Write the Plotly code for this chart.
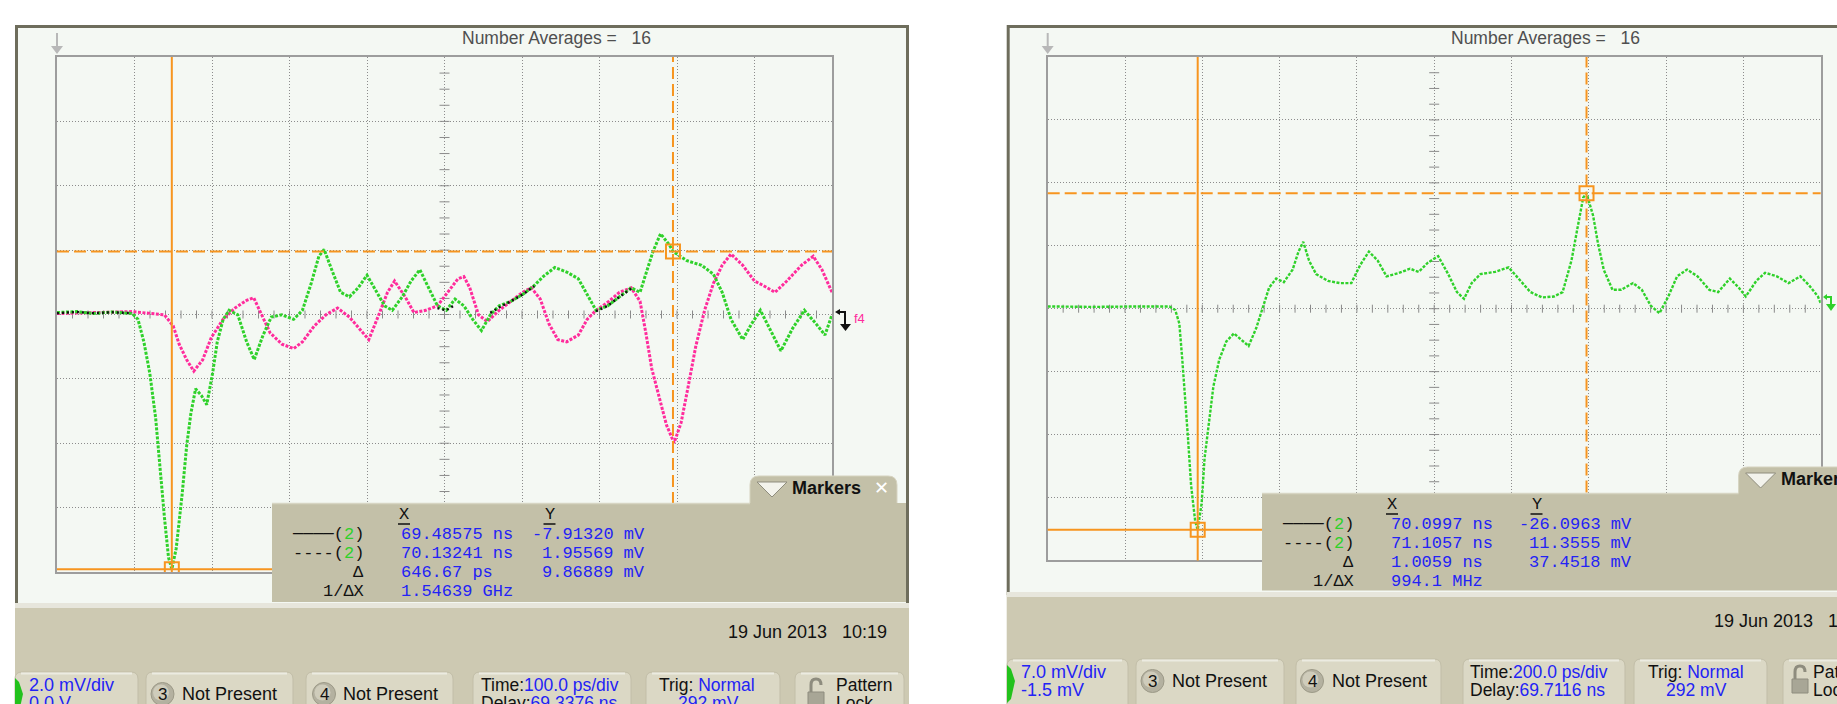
import plotly.graph_objects as go

# ---------------- left screen: 100 ps/div, 2.0 mV/div, offset 0.0 V ----------------
left_delay = 69.3376          # ns at left edge of screen
left_time_per_div = 0.1       # ns
left_offset = 0.0             # mV at screen centre
left_volt_per_div = 2.0       # mV

left_green_t = [69.3376, 69.3626, 69.3853, 69.4081, 69.4346, 69.4421, 69.4497, 69.4573, 69.4649, 69.4702,
                69.4762, 69.4815, 69.4858, 69.4914, 69.4990, 69.5050, 69.5103, 69.5164, 69.5240, 69.5308,
                69.5384, 69.5444, 69.5520, 69.5596, 69.5709, 69.5823, 69.5921, 69.6035, 69.6141, 69.6278,
                69.6429, 69.6543, 69.6656, 69.6755, 69.6823, 69.6921, 69.7035, 69.7149, 69.7262, 69.7376,
                69.7490, 69.7603, 69.7702, 69.7831, 69.7944, 69.8058, 69.8171, 69.8285, 69.8399, 69.8512,
                69.8626, 69.8740, 69.8853, 69.8967, 69.9081, 69.9232, 69.9384, 69.9535, 69.9649, 69.9800,
                69.9952, 70.0103, 70.0217, 70.0331, 70.0482, 70.0634, 70.0785, 70.0899, 70.0974, 70.1065,
                70.1164, 70.1278, 70.1324, 70.1505, 70.1694, 70.1846, 70.1959, 70.2073, 70.2224, 70.2338,
                70.2452, 70.2565, 70.2717, 70.2868, 70.3020, 70.3171, 70.3285, 70.3376]
left_green_v = [0.06, 0.09, 0.03, 0.08, 0.03, -0.15, -0.85, -1.82, -3.22, -4.76,
                -6.30, -7.55, -7.91, -7.27, -5.60, -4.06, -3.08, -2.31, -2.52, -2.80,
                -1.82, -0.85, -0.15, 0.13, -0.01, -0.85, -1.40, -0.64, -0.08, -0.01,
                -0.15, 0.13, 0.97, 1.81, 2.02, 1.39, 0.69, 0.55, 0.83, 1.22,
                0.76, 0.27, 0.13, 0.55, 1.04, 1.39, 0.83, 0.27, 0.13, 0.48,
                0.27, -0.15, -0.50, -0.01, 0.27, 0.41, 0.62, 0.90, 1.18, 1.46,
                1.32, 1.11, 0.62, 0.13, 0.27, 0.55, 0.83, 0.69, 1.25, 1.95,
                2.51, 2.16, 1.96, 1.67, 1.53, 1.25, 0.69, -0.15, -0.78, -0.29,
                0.13, -0.43, -1.13, -0.43, 0.13, -0.29, -0.64, -0.01]

left_pink_t = [69.3376, 69.3853, 69.4346, 69.4762, 69.4876, 69.4952, 69.5050, 69.5141, 69.5255, 69.5368,
               69.5520, 69.5671, 69.5823, 69.5914, 69.6012, 69.6126, 69.6278, 69.6429, 69.6543, 69.6694,
               69.6846, 69.6997, 69.7149, 69.7278, 69.7399, 69.7528, 69.7641, 69.7732, 69.7868, 69.7982,
               69.8134, 69.8285, 69.8437, 69.8550, 69.8626, 69.8702, 69.8815, 69.8929, 69.9081, 69.9232,
               69.9384, 69.9497, 69.9611, 69.9724, 69.9838, 69.9952, 70.0103, 70.0217, 70.0331, 70.0482,
               70.0634, 70.0785, 70.0899, 70.0974, 70.1050, 70.1141, 70.1240, 70.1338, 70.1429, 70.1520,
               70.1618, 70.1732, 70.1846, 70.1959, 70.2073, 70.2224, 70.2376, 70.2490, 70.2641, 70.2793,
               70.2982, 70.3134, 70.3247, 70.3376]
left_pink_v = [0.03, 0.06, 0.09, -0.01, -0.36, -0.92, -1.41, -1.76, -1.41, -0.71,
               -0.15, 0.20, 0.44, 0.52, -0.01, -0.57, -0.92, -1.06, -0.85, -0.36,
               -0.01, 0.20, -0.08, -0.43, -0.78, -0.01, 0.69, 1.04, 0.55, 0.06,
               0.13, 0.27, 0.76, 1.11, 1.18, 0.83, -0.01, -0.22, 0.13, 0.41,
               0.69, 0.83, 0.48, -0.29, -0.78, -0.85, -0.64, -0.15, 0.13, 0.38,
               0.69, 0.83, 0.41, -0.57, -1.68, -2.52, -3.43, -3.99, -3.36, -2.24,
               -0.99, 0.13, 0.97, 1.53, 1.88, 1.53, 1.04, 0.90, 0.69, 1.04,
               1.53, 1.81, 1.39, 0.69]

# segments where the two waveforms coincide and the overlap colour shows
left_black_t = [69.3376, 69.3626, 69.3853, 69.4081, 69.4346, None,
                69.8285, 69.8399, 69.8512, None,
                69.8967, 69.9081, 69.9232, 69.9384, 69.9535, None,
                70.0331, 70.0482, 70.0634, 70.0785]
left_black_v = [0.04, 0.08, 0.04, 0.07, 0.04, None,
                0.20, 0.13, 0.30, None,
                0.05, 0.22, 0.41, 0.62, 0.88, None,
                0.10, 0.27, 0.55, 0.80]

left_marker_x = [69.48575, 70.13241]   # ns (solid, dashed)
left_marker_y = [-7.91320, 1.95569]    # mV (solid, dashed)
left_delta_x = "646.67 ps"
left_delta_y = "9.86889 mV"
left_inv_dx = "1.54639 GHz"

# ---------------- right screen: 200 ps/div, 7.0 mV/div, offset -1.5 mV ----------------
right_delay = 69.7116
right_time_per_div = 0.2
right_offset = -1.5
right_volt_per_div = 7.0

right_green_t = [69.7116, 69.8290, 69.9505, 70.0264, 70.0416, 70.0522, 70.0598, 70.0674, 70.0750, 70.0826,
                 70.0932, 70.0997, 70.1099, 70.1175, 70.1281, 70.1403, 70.1555, 70.1737, 70.1935, 70.2162,
                 70.2314, 70.2512, 70.2694, 70.2846, 70.3028, 70.3225, 70.3453, 70.3605, 70.3727, 70.3878,
                 70.4061, 70.4364, 70.4668, 70.4972, 70.5200, 70.5427, 70.5655, 70.5883, 70.6187, 70.6490,
                 70.6718, 70.6946, 70.7219, 70.7478, 70.7705, 70.7888, 70.8085, 70.8313, 70.8692, 70.9042,
                 70.9300, 70.9604, 70.9907, 71.0211, 71.0439, 71.0667, 71.0818, 71.0970, 71.1057, 71.1228,
                 71.1350, 71.1502, 71.1730, 71.1957, 71.2261, 71.2489, 71.2717, 71.2945, 71.3172, 71.3400,
                 71.3658, 71.3931, 71.4235, 71.4463, 71.4767, 71.4994, 71.5177, 71.5450, 71.5678, 71.5982,
                 71.6285, 71.6589, 71.6817, 71.7045, 71.7116]
right_green_v = [-1.25, -1.30, -1.25, -1.25, -1.65, -3.15, -7.15, -11.15, -16.14, -21.14,
                 -25.14, -26.10, -23.14, -18.14, -14.14, -10.15, -7.15, -5.15, -4.25, -5.05,
                 -5.65, -3.65, -1.15, 0.85, 1.85, 1.45, 2.85, 4.85, 5.95, 3.85,
                 2.35, 1.60, 1.35, 1.35, 3.35, 4.85, 3.85, 2.10, 2.45, 2.95,
                 2.60, 3.60, 4.35, 2.35, 0.35, -0.40, 1.35, 2.35, 2.60, 3.10,
                 1.85, 0.35, -0.25, -0.15, 0.35, 3.85, 7.35, 10.84, 11.36, 8.84,
                 5.85, 2.85, 0.60, 0.60, 1.35, 0.60, -1.15, -2.00, -0.15, 2.10,
                 2.85, 2.10, 0.60, 0.35, 1.85, 0.85, -0.15, 1.60, 2.50, 2.10,
                 1.35, 2.10, 1.10, -0.15, -0.90]

right_marker_x = [70.0997, 71.1057]
right_marker_y = [-26.0963, 11.3555]
right_delta_x = "1.0059 ns"
right_delta_y = "37.4518 mV"
right_inv_dx = "994.1 MHz"

# ---------------- styling ----------------
W, H = 1837, 704
GREEN = "#2fd12a"
PINK = "#ff2c9c"
ORANGE = "#f7951f"
GRID = "#8c8c8c"
FRAME = "#6e6d5c"
SCREEN = "#f4f8f3"
TAN = "#cdc9b2"
PANEL = "#c3c0a8"
BUTTON = "#dbd8c5"
BLUE = "#2323f5"
SANS = "Liberation Sans, Arial, sans-serif"
MONO = "Liberation Mono, DejaVu Sans Mono, monospace"
NB = "\u00a0"


def px(x):
    return x / W


def py(y):
    return 1 - y / H


def pt(x, y):
    return f"{px(x):.6f},{py(y):.6f}"


def rect(x0, y0, x1, y1, fill, line_color=None, lw=0, layer="below"):
    return dict(type="rect", xref="paper", yref="paper", x0=px(x0), x1=px(x1), y0=py(y1), y1=py(y0),
                fillcolor=fill, line=dict(color=line_color or fill, width=lw), layer=layer)


def poly(points, fill=None, line_color=None, lw=0, close=True, layer="above"):
    d = "M" + " L".join(pt(x, y) for x, y in points) + (" Z" if close else "")
    return dict(type="path", xref="paper", yref="paper", path=d,
                fillcolor=fill or "rgba(0,0,0,0)",
                line=dict(color=line_color or "rgba(0,0,0,0)", width=lw), layer=layer)


def rrect(x0, y0, x1, y1, r, fill, line_color=None, lw=0, layer="above", top_only=False):
    if top_only:
        d = (f"M{pt(x0, y1)} L{pt(x0, y0 + r)} Q{pt(x0, y0)} {pt(x0 + r, y0)} "
             f"L{pt(x1 - r, y0)} Q{pt(x1, y0)} {pt(x1, y0 + r)} L{pt(x1, y1)} Z")
    else:
        d = (f"M{pt(x0 + r, y0)} L{pt(x1 - r, y0)} Q{pt(x1, y0)} {pt(x1, y0 + r)} "
             f"L{pt(x1, y1 - r)} Q{pt(x1, y1)} {pt(x1 - r, y1)} L{pt(x0 + r, y1)} "
             f"Q{pt(x0, y1)} {pt(x0, y1 - r)} L{pt(x0, y0 + r)} Q{pt(x0, y0)} {pt(x0 + r, y0)} Z")
    return dict(type="path", xref="paper", yref="paper", path=d, fillcolor=fill,
                line=dict(color=line_color or fill, width=lw), layer=layer)


def circle(cx, cy, r, fill, line_color=None, lw=0, layer="above"):
    return dict(type="circle", xref="paper", yref="paper", x0=px(cx - r), x1=px(cx + r),
                y0=py(cy + r), y1=py(cy - r), fillcolor=fill,
                line=dict(color=line_color or fill, width=lw), layer=layer)


def hline(x0, x1, y, color, lw=1, layer="above"):
    return dict(type="line", xref="paper", yref="paper", x0=px(x0), x1=px(x1), y0=py(y), y1=py(y),
                line=dict(color=color, width=lw), layer=layer)


def text(x, y, s, size=18, color="#111111", family=SANS, xanchor="left", yanchor="middle"):
    return dict(xref="paper", yref="paper", x=px(x), y=py(y), text=s, showarrow=False,
                xanchor=xanchor, yanchor=yanchor, font=dict(size=size, color=color, family=family))


def blue(s):
    return f"<span style='color:{BLUE}'>{s}</span>"


shapes = []
annotations = []

# ---------------- screen bezels and panels ----------------
screens = [
    dict(fx0=15, fx1=909, sx0=18, sx1=906, sbot=603, gx=57,
         tab=(750, 476, 897, 504), panel=(272, 503, 906, 602)),
    dict(fx0=1006.7, fx1=1845, sx0=1009.7, sx1=1845, sbot=592, gx=1047.7,
         tab=(1738.6, 467, 1850, 494), panel=(1262, 493, 1845, 590.5)),
]
for s in screens:
    shapes.append(rect(s["fx0"], 25, s["fx1"], s["sbot"] + 3, FRAME))
    shapes.append(rect(s["sx0"], 28, s["sx1"], s["sbot"], SCREEN))
    shapes.append(rect(s["fx0"], s["sbot"], s["fx1"], 712, TAN))
    shapes.append(rect(s["fx0"], s["sbot"], s["fx1"], s["sbot"] + 5, "#e7e6dc"))
    # small grey arrow above the grid's top-left corner
    shapes.append(poly([(s["gx"], 33), (s["gx"], 49)], line_color="#b8b8b8", lw=2, close=False, layer="below"))
    shapes.append(poly([(s["gx"] - 6, 46), (s["gx"] + 6, 46), (s["gx"], 54)], fill="#b8b8b8", layer="below"))

# ---------------- axes ----------------
left_xr = [left_delay, left_delay + 10 * left_time_per_div]
left_yr = [left_offset - 4 * left_volt_per_div, left_offset + 4 * left_volt_per_div]
right_xr = [right_delay, right_delay + 10 * right_time_per_div]
right_yr = [right_offset - 4 * right_volt_per_div, right_offset + 4 * right_volt_per_div]

ax_common = dict(showgrid=True, gridcolor=GRID, gridwidth=1, griddash="1px,2px", showticklabels=False,
                 ticks="", zeroline=False, showline=True, mirror=True, linecolor="#9d9d9d", linewidth=2,
                 fixedrange=True)

fig = go.Figure()

fig.add_trace(go.Scatter(x=left_pink_t, y=left_pink_v, mode="lines", xaxis="x", yaxis="y",
                         line=dict(color=PINK, width=3, dash="3px,1.5px"), hoverinfo="skip"))
fig.add_trace(go.Scatter(x=left_green_t, y=left_green_v, mode="lines", xaxis="x", yaxis="y",
                         line=dict(color=GREEN, width=3, dash="3px,1.5px"), hoverinfo="skip"))
fig.add_trace(go.Scatter(x=left_black_t, y=left_black_v, mode="lines", xaxis="x", yaxis="y",
                         connectgaps=False, line=dict(color="#111111", width=2.4, dash="2px,3px"),
                         hoverinfo="skip"))
fig.add_trace(go.Scatter(x=right_green_t, y=right_green_v, mode="lines", xaxis="x2", yaxis="y2",
                         line=dict(color=GREEN, width=2.4, dash="3px,1.5px"), hoverinfo="skip"))

# ---------------- minor ticks on the centre cross ----------------
for xa, ya, xr, yr, tdiv, vdiv in [("x", "y", left_xr, left_yr, left_time_per_div, left_volt_per_div),
                                     ("x2", "y2", right_xr, right_yr, right_time_per_div, right_volt_per_div)]:
    tc = (xr[0] + xr[1]) / 2
    vc = (yr[0] + yr[1]) / 2
    for k in range(1, 32):
        v = yr[0] + k * vdiv / 4
        shapes.append(dict(type="line", xref=xa, yref=ya, xsizemode="pixel", xanchor=tc, x0=-5, x1=5,
                           y0=v, y1=v, line=dict(color="#8a8a8a", width=1), layer="below"))
    for k in range(1, 50):
        t = xr[0] + k * tdiv / 5
        shapes.append(dict(type="line", xref=xa, yref=ya, ysizemode="pixel", yanchor=vc, y0=-4, y1=4,
                           x0=t, x1=t, line=dict(color="#8a8a8a", width=1), layer="below"))

# ---------------- orange measurement markers ----------------
for xa, ya, mx, my in [("x", "y", left_marker_x, left_marker_y), ("x2", "y2", right_marker_x, right_marker_y)]:
    for i, dash in enumerate(["solid", "12px,5px"]):
        shapes.append(dict(type="line", xref=xa, yref="paper",
                           x0=mx[i], x1=mx[i],
                           y0=py(572 if xa == "x" else 560.4), y1=py(57),
                           line=dict(color=ORANGE, width=2, dash=dash), layer="above"))
        shapes.append(dict(type="line", xref="paper", yref=ya,
                           x0=px(57 if xa == "x" else 1047.7), x1=px(832 if xa == "x" else 1820.7),
                           y0=my[i], y1=my[i],
                           line=dict(color=ORANGE, width=2, dash=dash), layer="above"))
        shapes.append(dict(type="rect", xref=xa, yref=ya, xsizemode="pixel", ysizemode="pixel",
                           xanchor=mx[i], yanchor=my[i], x0=-7, x1=7, y0=-7, y1=7,
                           line=dict(color=ORANGE, width=2), fillcolor="rgba(0,0,0,0)", layer="above"))

# ---------------- channel reference arrows at the right edge ----------------
shapes.append(poly([(837, 312), (845, 312), (845, 326)], line_color="#111111", lw=2, close=False))
shapes.append(poly([(835, 312), (840, 309), (840, 315)], fill="#111111"))
shapes.append(poly([(840, 324), (851, 324), (845.5, 331)], fill="#111111"))
annotations.append(text(852, 318, "f4", size=13, color=PINK))
shapes.append(poly([(1825, 297), (1831, 297), (1831, 305)], line_color=GREEN, lw=2, close=False))
shapes.append(poly([(1823, 297), (1827, 294), (1827, 300)], fill=GREEN))
shapes.append(poly([(1826, 304), (1836, 304), (1831, 311)], fill=GREEN))

# ---------------- marker readout panels ----------------
readouts = [
    dict(scr=screens[0], top=503, lab_r=366, xcol=399, ycol_r=647, xhdr=404, yhdr=549.5,
         xs=[f"{v:.5f} ns" for v in left_marker_x] + [left_delta_x, left_inv_dx],
         ys=[f"{v:.5f} mV" for v in left_marker_y] + [left_delta_y]),
    dict(scr=screens[1], top=493, lab_r=1356, xcol=1388.5, ycol_r=1634, xhdr=1392, yhdr=1536.5,
         xs=[f"{v:.4f} ns" for v in right_marker_x] + [right_delta_x, right_inv_dx],
         ys=[f"{v:.4f} mV" for v in right_marker_y] + [right_delta_y]),
]
for r in readouts:
    s = r["scr"]
    tx0, ty0, tx1, ty1 = s["tab"]
    shapes.append(rrect(tx0, ty0, tx1, ty1, 9, PANEL, "#d6d3c0", 1, top_only=True))
    px0, py0, px1, py1 = s["panel"]
    shapes.append(rect(px0, py0, px1, py1, PANEL, layer="above"))
    shapes.append(hline(px0, tx0, py0 + 0.5, "#d7d5c3", 1.5))
    shapes.append(poly([(tx0 + 7, ty0 + 6), (tx0 + 37, ty0 + 6), (tx0 + 22, ty0 + 21)],
                       fill="#f3f3ec", line_color="#8f8d7d", lw=1))
    annotations.append(text(tx0 + 40, ty0 + 12, "<b>Markers</b>", size=18, color="#111111"))
    annotations.append(text(tx0 + 122, ty0 + 12, "\u2715", size=18, color="#ffffff"))
    top = r["top"]
    rows = [top + 31, top + 50, top + 69, top + 88]
    annotations.append(text(r["xhdr"], top + 11, "X", size=17, family=MONO, xanchor="center"))
    annotations.append(text(r["yhdr"], top + 11, "Y", size=17, family=MONO, xanchor="center"))
    shapes.append(hline(r["xhdr"] - 6, r["xhdr"] + 6, top + 21, "#111111", 1.5))
    shapes.append(hline(r["yhdr"] - 6, r["yhdr"] + 6, top + 21, "#111111", 1.5))
    g2 = f"(<span style='color:{GREEN}'>2</span>)"
    labels = ["\u2500\u2500\u2500\u2500" + g2, "----" + g2, "\u0394", "1/\u0394X"]
    for i, lab in enumerate(labels):
        annotations.append(text(r["lab_r"], rows[i], lab, size=17, family=MONO, xanchor="right"))
        annotations.append(text(r["xcol"], rows[i], r["xs"][i], size=17, family=MONO, color=BLUE))
    for i, val in enumerate(r["ys"]):
        annotations.append(text(r["ycol_r"], rows[i], val, size=17, family=MONO, color=BLUE, xanchor="right"))

# ---------------- header text, date and soft-key buttons ----------------
annotations.append(text(460, 38, f"Number Averages ={NB}{NB}{NB}16", size=17.5, color="#4f4f4f"))
annotations.append(text(1449, 38, f"Number Averages ={NB}{NB}{NB}16", size=17.5, color="#4f4f4f"))
annotations.append(text(726, 632, f"19 Jun 2013{NB}{NB}{NB}10:19", size=18))
annotations.append(text(1712, 621, f"19 Jun 2013{NB}{NB}{NB}1", size=18))

button_rows = [
    dict(top=672, l1=685, l2=703, btns=[(15, 138), (146, 293), (306, 453), (473, 631), (646, 780), (795, 904)],
         scale=("2.0 mV/div", "0.0 V"), badge3=162.5, badge4=324, np3=180, np4=341,
         time=("100.0 ps/div", "69.3376 ns"), tx=479, trx=657, trig2x=676, lockx=809, patx=834),
    dict(top=659, l1=672, l2=690, btns=[(1007, 1128), (1136, 1284), (1296, 1441), (1463, 1625), (1634, 1767), (1783, 1900)],
         scale=("7.0 mV/div", "-1.5 mV"), badge3=1152.5, badge4=1312, np3=1170, np4=1330,
         time=("200.0 ps/div", "69.7116 ns"), tx=1468, trx=1646, trig2x=1664, lockx=1793, patx=1811),
]
for b in button_rows:
    top = b["top"]
    mid = (b["l1"] + b["l2"]) / 2
    for x0, x1 in b["btns"]:
        shapes.append(rrect(x0, top, x1, 720, 7, BUTTON, "#c2bea8", 1))
        shapes.append(hline(x0 + 6, x1 - 6, top + 1.5, "#ecebe1", 2))
    x0 = b["btns"][0][0]
    shapes.append(poly([(x0, top + 6), (x0 + 4, top + 10), (x0 + 8, mid), (x0 + 4, top + 40), (x0, top + 44)],
                       fill="#22c21c"))
    annotations.append(text(x0 + 12, b["l1"], blue(b["scale"][0]), size=18))
    annotations.append(text(x0 + 12, b["l2"], blue(b["scale"][1]), size=18))
    for cx, num, nx in [(b["badge3"], "3", b["np3"]), (b["badge4"], "4", b["np4"])]:
        shapes.append(circle(cx, mid, 11.5, "#b4b1a0", "#9d9a88", 1))
        shapes.append(circle(cx - 1.5, mid - 1.5, 8, "#cfccbb"))
        annotations.append(text(cx, mid, num, size=17, xanchor="center"))
        annotations.append(text(nx, mid, "Not Present", size=18))
    annotations.append(text(b["tx"], b["l1"], "Time:" + blue(b["time"][0]), size=17.5))
    annotations.append(text(b["tx"], b["l2"], "Delay:" + blue(b["time"][1]), size=17.5))
    annotations.append(text(b["trx"], b["l1"], "Trig: " + blue("Normal"), size=17.5))
    annotations.append(text(b["trig2x"], b["l2"], blue("292 mV"), size=17.5))
    lx = b["lockx"]
    shapes.append(dict(type="path", xref="paper", yref="paper",
                       path=f"M{pt(lx + 2, mid)} L{pt(lx + 2, mid - 9)} Q{pt(lx + 2, mid - 15)} {pt(lx + 7, mid - 15)} "
                            f"Q{pt(lx + 12, mid - 15)} {pt(lx + 12, mid - 9)}",
                       line=dict(color="#8e8c7e", width=3), fillcolor="rgba(0,0,0,0)", layer="above"))
    shapes.append(rect(lx - 1, mid - 2, lx + 15, mid + 12, "#a8a696", "#8e8c7e", 1, layer="above"))
    annotations.append(text(b["patx"], b["l1"], "Pattern", size=17.5))
    annotations.append(text(b["patx"], b["l2"], "Lock", size=17.5))

fig.update_layout(
    width=W, height=H, margin=dict(l=0, r=0, t=0, b=0),
    paper_bgcolor="#ffffff", plot_bgcolor="rgba(0,0,0,0)", showlegend=False,
    xaxis=dict(domain=[px(57), px(832)], range=left_xr, tick0=left_delay, dtick=left_time_per_div,
               anchor="y", **ax_common),
    yaxis=dict(domain=[py(572), py(57)], range=left_yr, tick0=left_offset, dtick=left_volt_per_div,
               anchor="x", **ax_common),
    xaxis2=dict(domain=[px(1047.7), px(1820.7)], range=right_xr, tick0=right_delay, dtick=right_time_per_div,
                anchor="y2", **ax_common),
    yaxis2=dict(domain=[py(560.4), py(57)], range=right_yr, tick0=right_offset, dtick=right_volt_per_div,
                anchor="x2", **ax_common),
    shapes=shapes,
    annotations=annotations,
)

fig.write_html("out.html", config={"displayModeBar": False})
